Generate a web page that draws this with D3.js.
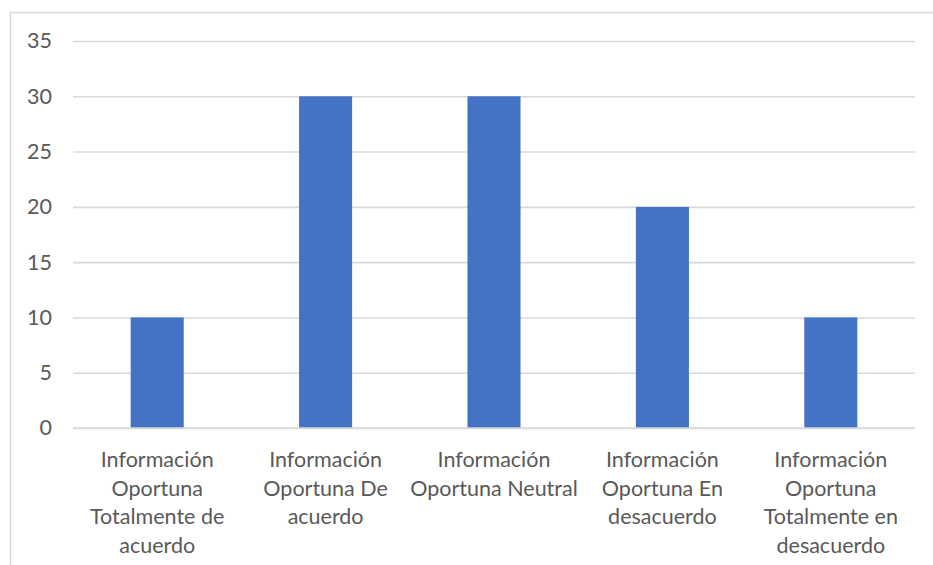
<!DOCTYPE html>
<html><head><meta charset="utf-8">
<script src="https://cdn.jsdelivr.net/npm/d3@7/dist/d3.min.js"></script>
<style>body{margin:0;background:#fff;}svg{display:block;}</style>
</head><body>
<svg id="c" width="933" height="565"></svg>
<script>
const categories = ["Información Oportuna Totalmente de acuerdo","Información Oportuna De acuerdo","Información Oportuna Neutral","Información Oportuna En desacuerdo","Información Oportuna Totalmente en desacuerdo"];
const labelLines = [
  ["Información","Oportuna","Totalmente de","acuerdo"],
  ["Información","Oportuna De","acuerdo"],
  ["Información","Oportuna Neutral"],
  ["Información","Oportuna En","desacuerdo"],
  ["Información","Oportuna","Totalmente en","desacuerdo"]
];
const values = [10,30,30,20,10];
const yTicks = [0,5,10,15,20,25,30,35];

const svg = d3.select("#c");
const W=933,H=565;
const m={left:73,right:18,top:41,bottom:137};
const font = "Lato, 'Open Sans', sans-serif";
const textColor = "#595959";

// chart border
svg.append("path").attr("d",`M10.5,${H}V12.5H${W}`).attr("fill","none").attr("stroke","#d9d9d9").attr("stroke-width",1.5);

const x = d3.scaleBand().domain(categories).range([m.left,W-m.right]).paddingInner(0.685).paddingOuter(0.3425);
const y = d3.scaleLinear().domain([0,35]).range([H-m.bottom,m.top]);

// gridlines
const gy = svg.append("g").attr("transform",`translate(${m.left},0)`)
  .call(d3.axisLeft(y).tickValues(yTicks).tickSize(-(W-m.right-m.left)).tickPadding(21));
gy.select(".domain").remove();
gy.selectAll(".tick line").attr("stroke","#d9d9d9").attr("stroke-width",1.6);
gy.selectAll(".tick text").attr("fill",textColor).style("font-family",font).style("font-size","21.5px");

// bars
svg.append("g").selectAll("rect").data(values).join("rect")
  .attr("x",(d,i)=>x(categories[i]))
  .attr("width",x.bandwidth())
  .attr("y",d=>y(d))
  .attr("height",d=>y(0)-y(d))
  .attr("fill","#4472C4");

// baseline over bars
svg.append("line").attr("x1",m.left).attr("x2",W-m.right).attr("y1",y(0)).attr("y2",y(0)).attr("stroke","#d9d9d9").attr("stroke-width",1.6);

// category labels
const gx = svg.append("g").attr("transform",`translate(0,${y(0)})`)
  .call(d3.axisBottom(x).tickSize(0).tickFormat(""));
gx.select(".domain").remove();
gx.selectAll(".tick").each(function(d,i){
  const t = d3.select(this).append("text").attr("fill",textColor).attr("text-anchor","middle")
    .style("font-family",font).style("font-size","21.5px").attr("y",39);
  labelLines[i].forEach((l,j)=>t.append("tspan").attr("x",0).attr("dy",j===0?0:28.5).text(l));
});
</script>
</body></html>
